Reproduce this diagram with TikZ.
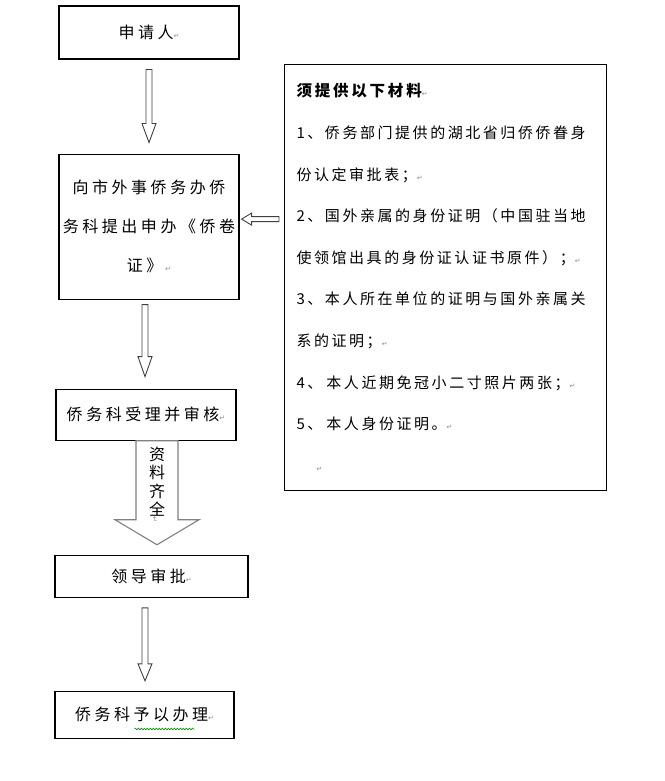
\documentclass[tikz,border=0pt]{standalone}
\usepackage{fontspec}
\setmainfont{Noto Sans CJK SC}
\newfontfamily\marksfont{DejaVu Sans}
\usetikzlibrary{positioning,calc,decorations.pathmorphing}

% paragraph mark as shown in the picture
\newcommand\pmark{{\marksfont\fontsize{7}{7}\selectfont\textcolor{black!45}{↵}}}
% hollow block arrow: [style] start, tip, half shaft, half head, head length
\newcommand\hollowarrow[6][]{%
  \coordinate (ha-s) at (#2);
  \coordinate (ha-t) at (#3);
  \coordinate (ha-b) at ($(ha-t)!#6!(ha-s)$);
  \draw[hollow,#1] ($(ha-s)!#4!90:(ha-t)$) -- ($(ha-b)!#4!90:(ha-t)$)
    -- ($(ha-b)!#5!90:(ha-t)$) -- (ha-t) -- ($(ha-b)!#5!-90:(ha-t)$)
    -- ($(ha-b)!#4!-90:(ha-t)$) -- ($(ha-s)!#4!-90:(ha-t)$) -- cycle;}

\begin{document}
\begin{tikzpicture}[
  x=1pt, y=-1pt,
  flowbox/.style={draw, line width=1.1pt, inner sep=0pt, align=center,
                  font=\fontsize{16}{39}\selectfont\addfontfeature{LetterSpace=22}},
  hollow/.style={draw=black!75, line width=0.9pt, fill=white, line join=miter}
]
  \useasboundingbox (0,0) rectangle (664,781);
  \node[flowbox, minimum width=180pt, minimum height=53pt] (apply) at (149,32.5) {申请人\pmark};
  \node[flowbox, minimum width=180pt, minimum height=145pt, below=94pt of apply] (submit)
    {向市外事侨务办侨\\务科提出申办《侨卷\\证》\,\pmark};
  \node[flowbox, minimum width=180pt, minimum height=51pt, below=89pt of submit, xshift=-3pt] (review)
    {侨务科受理并审核\pmark};
  \node[flowbox, minimum width=193pt, minimum height=42pt, below=114pt of review, xshift=5.5pt] (approve)
    {领导审批\pmark};
  \node[flowbox, minimum width=179pt, minimum height=47pt, below=93pt of approve, xshift=-7pt] (handle)
    {侨务科予以办理\pmark};
  % the list of papers on the right
  \node[draw, line width=1.1pt, anchor=north west, minimum height=426pt, text width=298pt,
        inner xsep=12pt, inner ysep=0pt, align=left,
        font=\fontsize{15}{41.6}\selectfont\addfontfeature{LetterSpace=17}] (needs) at (284,64)
    {{\fontsize{15.5}{41.6}\selectfont\bfseries\addfontfeature{LetterSpace=18}须提供以下材料}\pmark\\
     1、侨务部门提供的湖北省归侨侨眷身\\
     份认定审批表；\pmark\\
     2、国外亲属的身份证明（中国驻当地\\
     使领馆出具的身份证认证书原件）；\pmark\\
     3、本人所在单位的证明与国外亲属关\\
     系的证明；\pmark\\
     4、\hspace{4pt}本人近期免冠小二寸照片两张；\pmark\\
     5、\hspace{4pt}本人身份证明。\pmark\\
     \hspace{20pt}\pmark};

  % arrows
  \hollowarrow{$(apply.south)+(0,10)$}{$(submit.north)+(0,-11)$}{3pt}{7pt}{19pt}
  \hollowarrow{$(submit.south)+(-4,5)$}{$(review.north)+(-1,-12)$}{3pt}{7pt}{20pt}
  \hollowarrow[draw=black!50, line width=1.1pt]{$(review.south)+(11,0)$}{$(approve.north)+(5.5,-10)$}{21pt}{42pt}{25pt}
  \hollowarrow{$(approve.south)+(-6.5,10)$}{$(handle.north)+(0.5,-10)$}{3pt}{7pt}{17pt}
  \coordinate (lt) at ($(submit.east)+(2,-7.5)$);
  \hollowarrow{$(needs.west |- lt)+(-5,0)$}{lt}{2.5pt}{6pt}{10pt}

  \node[align=center, inner sep=0pt, font=\fontsize{16}{18.5}\selectfont] (full)
    at ($(review.south)+(11,41)$) {资\\料\\齐\\全};
  \node[rotate=-90, inner sep=0pt, below=3pt of full] (fullmark) {\pmark};
  % spelling mark under the last box text
  \draw[green!55!black, line width=0.6pt, decorate,
        decoration={snake, amplitude=0.8pt, segment length=3pt}]
    ($(handle.south west)+(80,-10)$) -- ($(handle.south west)+(140,-10)$);
\end{tikzpicture}
\end{document}
